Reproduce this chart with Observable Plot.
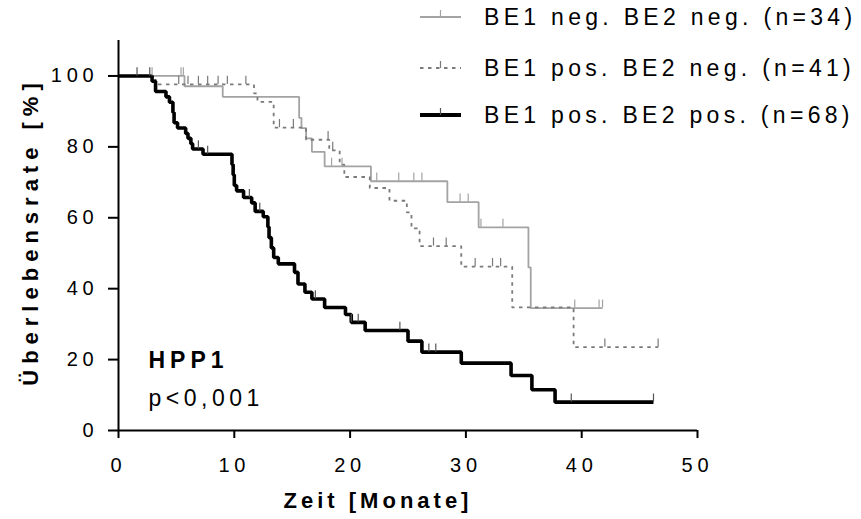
<!DOCTYPE html>
<html><head><meta charset="utf-8">
<script src="https://cdn.jsdelivr.net/npm/d3@7"></script>
<script src="https://cdn.jsdelivr.net/npm/@observablehq/plot@0.6"></script>
<style>
body{margin:0;background:#fff;font-family:"Liberation Sans",Arial,sans-serif;}
#wrap{position:relative;width:861px;height:519px;overflow:hidden;}
#wrap > svg{position:absolute;left:0;top:0;}
g[aria-label="x-axis tick label"] text, g[aria-label="y-axis tick label"] text{letter-spacing:4.8px;}
#wrap .lg{position:absolute;left:420px;height:24px;display:flex;align-items:center;white-space:nowrap;}
#wrap .lg svg{position:static;margin-right:23px;flex:none;}
#wrap .lg span{font-size:23px;letter-spacing:4.3px;color:#000;}
</style></head><body><div id="wrap"></div>
<script>
// ---- data ----
const seriesNames = ["BE1 neg. BE2 neg. (n=34)", "BE1 pos. BE2 neg. (n=41)", "BE1 pos. BE2 pos. (n=68)"];

const negNegTime = [0, 5.7, 9.0, 15.6, 15.8, 16.2, 16.7, 17.8, 21.8, 28.4, 31.1, 35.4, 35.6, 41.8];
const negNegSurv = [100, 97.1, 94.1, 88.2, 85.3, 82.4, 78.6, 74.5, 70.3, 64.4, 57.3, 46.0, 34.5, 34.5];
const negNegCensor = [2.9, 5.4, 5.6, 18.4, 19.3, 22.3, 24.2, 25.5, 26.2, 29.5, 30.2, 31.3, 33.2, 39.4, 41.5, 41.8];

const posNegTime = [0, 3.2, 11.7, 12.0, 13.4, 16.2, 18.2, 19.1, 19.5, 21.7, 23.4, 24.9, 25.3, 26.0, 29.6, 34.0, 39.3, 46.6];
const posNegSurv = [100, 97.6, 95.1, 92.7, 85.4, 82.0, 79.0, 75.0, 71.5, 68.4, 64.8, 61.5, 57.0, 52.0, 46.2, 34.7, 23.5, 23.5];
const posNegCensor = [5.2, 6.0, 6.9, 7.7, 8.6, 9.4, 11.0, 13.9, 15.1, 18.1, 18.5, 27.2, 28.3, 30.8, 32.3, 33.0, 42.0, 46.6];

const posPosTime = [0, 2.9, 3.2, 4.1, 4.4, 4.7, 4.8, 5.1, 5.8, 6.0, 6.25, 6.4, 7.3, 9.8, 9.9, 10.0, 10.2, 10.8, 11.5, 11.8, 12.5, 12.9, 13.0, 13.2, 13.4, 13.8, 15.2, 15.5, 16.1, 16.7, 17.8, 19.6, 20.1, 21.3, 25.0, 26.2, 29.6, 33.9, 35.7, 37.7, 46.2];
const posPosSurv = [100, 98.5, 95.6, 94.1, 92.6, 89.7, 86.8, 85.3, 83.8, 82.4, 80.9, 79.4, 77.9, 75.0, 72.1, 69.1, 67.6, 65.7, 64.2, 61.8, 60.3, 57.4, 54.4, 51.5, 48.8, 47.0, 44.6, 41.3, 39.0, 37.1, 34.7, 32.7, 30.5, 28.2, 25.2, 22.1, 19.0, 15.5, 11.5, 8.0, 8.0];
const posPosCensor = [1.6, 2.7, 6.9, 7.7, 11.3, 12.2, 17.0, 20.1, 20.7, 24.3, 26.8, 27.4, 39.1, 46.2];

const xTicks = [0, 10, 20, 30, 40, 50];
const yTicks = [0, 20, 40, 60, 80, 100];
const xLabel = "Zeit [Monate]";
const yLabel = "Überlebensrate [%]";
const annotTitle = "HPP1";
const annotP = "p<0,001";

// ---- styles ----
const colors = ["#a3a3a3", "#7a7a7a", "#000000"];
const widths = [1.8, 1.8, 3.6];
const dashes = [null, "3.5,4.5", null];
const tickColors = ["#a3a3a3", "#7a7a7a", "#555555"];

// ---- build tables ----
const series = [
  {name: seriesNames[0], t: negNegTime, s: negNegSurv, c: negNegCensor},
  {name: seriesNames[1], t: posNegTime, s: posNegSurv, c: posNegCensor},
  {name: seriesNames[2], t: posPosTime, s: posPosSurv, c: posPosCensor}
];
function survAt(ser, t) {
  let v = ser.s[0];
  for (let i = 0; i < ser.t.length; i++) if (ser.t[i] <= t) v = ser.s[i];
  return v;
}
const curveData = series.map(ser => ser.t.map((t, i) => ({series: ser.name, t, s: ser.s[i]})));
const censorData = series.map(ser => ser.c.map(t => ({series: ser.name, t, s: survAt(ser, t)})));

const marks = [];
[0, 1, 2].forEach(k => {
  marks.push(Plot.line(curveData[k], {x: "t", y: "s", curve: "step-after", stroke: colors[k], strokeWidth: widths[k], strokeDasharray: dashes[k], strokeLinejoin: "miter", strokeLinecap: "butt"}));
});
[0, 1, 2].forEach(k => {
  marks.push(Plot.ruleX(censorData[k], {x: "t", y1: "s", y2: d => d.s + 2.3, stroke: tickColors[k], strokeWidth: 1.2}));
});

marks.push(Plot.ruleY([0], {stroke: "#000", strokeWidth: 2}));
marks.push(Plot.ruleX([0], {stroke: "#000", strokeWidth: 2}));
marks.push(Plot.axisX({ticks: xTicks, tickSize: 8, tickPadding: 19, fontSize: 20, label: null, strokeWidth: 2}));
marks.push(Plot.axisY({ticks: yTicks, tickSize: 10, tickPadding: 10, fontSize: 20, label: null, strokeWidth: 2}));
marks.push(Plot.text([yLabel], {frameAnchor: "left", textAnchor: "middle", rotate: -90, dx: -88, dy: -4, fontWeight: "bold", fontSize: 22}));
marks.push(Plot.text([xLabel], {frameAnchor: "bottom", textAnchor: "middle", dx: -30, dy: 77, fontWeight: "bold", fontSize: 22}));
marks.push(Plot.text([annotTitle], {frameAnchor: "bottom-left", textAnchor: "start", dx: 30, dy: -63, fontWeight: "bold", fontSize: 23}));
marks.push(Plot.text([annotP], {frameAnchor: "bottom-left", textAnchor: "start", dx: 30, dy: -25, fontSize: 23}));

const chart = Plot.plot({
  width: 861, height: 519,
  marginLeft: 118, marginRight: 164, marginTop: 40, marginBottom: 89,
  x: {domain: [0, 50]},
  y: {domain: [0, 110]},
  style: {fontFamily: "'Liberation Sans', Arial, sans-serif", fontSize: "20px", color: "#000", background: "#fff", overflow: "visible"},
  marks
});
const wrap = document.getElementById("wrap");
wrap.appendChild(chart);

// letter spacing for the free texts
const spacing = new Map([[yLabel, "6px"], [xLabel, "4px"], [annotTitle, "5px"], [annotP, "4.5px"]]);
d3.select(chart).selectAll("text").each(function () {
  const sp = spacing.get(this.textContent);
  if (sp) this.style.letterSpacing = sp;
});

// ---- legend (HTML overlay, top right) ----
const rowCenters = [17, 68, 115];
series.forEach((ser, k) => {
  const row = document.createElement("div");
  row.className = "lg";
  row.style.top = (rowCenters[k] - 12) + "px";
  const w = 41, h = 24, mid = 12;
  const dash = dashes[k] ? `stroke-dasharray="${dashes[k]}"` : "";
  row.innerHTML = `<svg width="${w}" height="${h}"><line x1="0" x2="${w}" y1="${mid}" y2="${mid}" stroke="${colors[k]}" stroke-width="${k === 2 ? 4 : 1.8}" ${dash}/><line x1="${w/2}" x2="${w/2}" y1="${mid - 7}" y2="${mid}" stroke="${tickColors[k]}" stroke-width="1.2"/></svg><span>${ser.name}</span>`;
  wrap.appendChild(row);
});
</script>
</body></html>
